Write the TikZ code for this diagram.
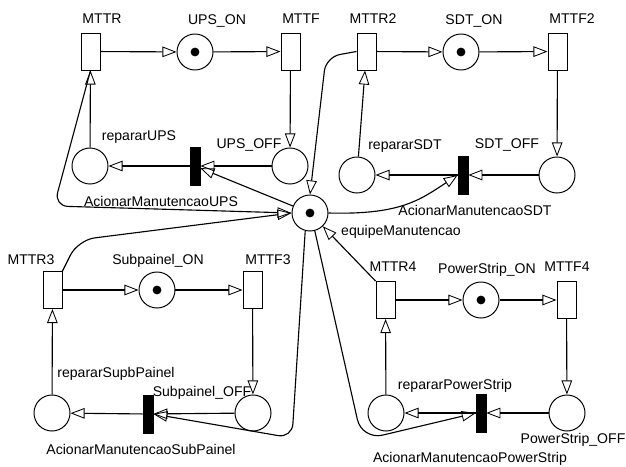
\documentclass[tikz,border=0pt]{standalone}
\usepackage{fontspec}
\setmainfont{Liberation Sans}
\usepackage{tikz}
\usetikzlibrary{arrows.meta, calc}
\tikzset{
    PlaceNode/.style={circle, draw, line width=0.7pt, fill=white, minimum size=0.9cm, inner sep=0pt},
    TokenPlace/.style={PlaceNode, path picture={\fill[black] (path picture bounding box.center) circle (0.11cm);}},
    TimedTrans/.style={rectangle, draw, line width=0.7pt, fill=white, minimum width=0.475cm, minimum height=0.925cm, inner sep=0pt},
    ImmTrans/.style={rectangle, draw, fill=black, minimum width=0.25cm, minimum height=0.95cm, inner sep=0pt},
    NetLabel/.style={font=\fontsize{10}{12}\selectfont, inner sep=0pt},
    ArcLine/.style={-{Triangle[open, length=10pt, width=7.5pt, line width=0.6pt]}, line width=0.8pt}
}

\begin{document}
\begin{tikzpicture}[x=0.025cm, y=-0.025cm]
    \useasboundingbox (0,0) rectangle (626,467);

    % equipe de manutencao no centro
    \node[TokenPlace] (equipe) at (310,213) {};
    \node[NetLabel] (lEquipe) at (401,232) {equipeManutencao};

    % rede UPS
    \node[TimedTrans] (mttr) at (90.5,51.5) {};
    \node[TokenPlace] (upsOn) at (195,52) {};
    \node[TimedTrans] (mttf) at (290.5,51.5) {};
    \node[PlaceNode] (upsOff) at (290,166) {};
    \node[PlaceNode] (repUPS) at (90,166) {};
    \node[ImmTrans] (acUPS) at (195,166) {};
    \node[NetLabel] (lMttr) at (102,19) {MTTR};
    \node[NetLabel] (lUpsOn) at (217,21) {UPS\_ON};
    \node[NetLabel] (lMttf) at (301,19) {MTTF};
    \node[NetLabel] (lUpsOff) at (249,145) {UPS\_OFF};
    \node[NetLabel] (lRepUPS) at (139,137) {repararUPS};
    \node[NetLabel] (lAcUPS) at (161,201) {AcionarManutencaoUPS};

    % rede SDT
    \node[TimedTrans] (mttr2) at (366.5,51.5) {};
    \node[TokenPlace] (sdtOn) at (461,52) {};
    \node[TimedTrans] (mttf2) at (557.5,51.5) {};
    \node[PlaceNode] (sdtOff) at (557,175) {};
    \node[PlaceNode] (repSDT) at (357,175) {};
    \node[ImmTrans] (acSDT) at (463,175) {};
    \node[NetLabel] (lMttr2) at (373,19) {MTTR2};
    \node[NetLabel] (lSdtOn) at (474,21) {SDT\_ON};
    \node[NetLabel] (lMttf2) at (572,19) {MTTF2};
    \node[NetLabel] (lSdtOff) at (507,145) {SDT\_OFF};
    \node[NetLabel] (lRepSDT) at (405,146) {repararSDT};
    \node[NetLabel] (lAcSDT) at (475,210) {AcionarManutencaoSDT};

    % rede Subpainel
    \node[TimedTrans] (mttr3) at (52.5,290) {};
    \node[TokenPlace] (subOn) at (157,290) {};
    \node[TimedTrans] (mttf3) at (252.5,290) {};
    \node[PlaceNode] (subOff) at (253,413) {};
    \node[PlaceNode] (repSub) at (52,413) {};
    \node[ImmTrans] (acSub) at (148,414) {};
    \node[NetLabel] (lMttr3) at (31,260) {MTTR3};
    \node[NetLabel] (lSubOn) at (158,261) {Subpainel\_ON};
    \node[NetLabel] (lMttf3) at (268,260) {MTTF3};
    \node[NetLabel] (lSubOff) at (202,393) {Subpainel\_OFF};
    \node[NetLabel] (lRepSub) at (116,374) {repararSupbPainel};
    \node[NetLabel] (lAcSub) at (141,449) {AcionarManutencaoSubPainel};

    % rede PowerStrip
    \node[TimedTrans] (mttr4) at (385.5,300) {};
    \node[TokenPlace] (powOn) at (481,300) {};
    \node[TimedTrans] (mttf4) at (566.5,300) {};
    \node[PlaceNode] (powOff) at (567,413) {};
    \node[PlaceNode] (repPow) at (386,413) {};
    \node[ImmTrans] (acPow) at (481,413) {};
    \node[NetLabel] (lMttr4) at (393,267) {MTTR4};
    \node[NetLabel] (lPowOn) at (487,270) {PowerStrip\_ON};
    \node[NetLabel] (lMttf4) at (567,267) {MTTF4};
    \node[NetLabel] (lPowOff) at (573,440) {PowerStrip\_OFF};
    \node[NetLabel] (lRepPow) at (455,386) {repararPowerStrip};
    \node[NetLabel] (lAcPow) at (470,459) {AcionarManutencaoPowerStrip};

    % ciclos de cada equipamento
    \foreach \tOn/\pOn/\tOff/\pOff/\tAc/\pRep in {mttr/upsOn/mttf/upsOff/acUPS/repUPS,
            mttr2/sdtOn/mttf2/sdtOff/acSDT/repSDT,
            mttr3/subOn/mttf3/subOff/acSub/repSub,
            mttr4/powOn/mttf4/powOff/acPow/repPow} {
        \draw[ArcLine] (\tOn) -- (\pOn);
        \draw[ArcLine] (\pOn) -- (\tOff);
        \draw[ArcLine] (\tOff) -- (\pOff);
        \draw[ArcLine] (\pOff) -- (\tAc);
        \draw[ArcLine] (\tAc) -- (\pRep);
        \draw[ArcLine] (\pRep) -- (\tOn);
    }

    % arcos da equipe de manutencao
    \draw[ArcLine] (equipe) -- (acUPS);
    \draw[ArcLine, rounded corners=10pt] (mttr.south) -- (54,206) -- (equipe.west);
    \draw[ArcLine, rounded corners=10pt] (mttr2.west) -- (326,57) -- (equipe.north);
    \draw[ArcLine] (equipe.east) .. controls (400,215) and (420,200) .. (acSDT.west);
    \draw[ArcLine, rounded corners=12pt] (mttr3.north east) -- (78,240) -- (equipe.west);
    \draw[ArcLine, rounded corners=10pt] (equipe.255) -- (292,438) -- (acSub.east);
    \draw[ArcLine] (mttr4.north west) -- (equipe);
    \draw[ArcLine, rounded corners=15pt] (equipe.285) -- (362,440) -- (acPow.west);
\end{tikzpicture}
\end{document}
